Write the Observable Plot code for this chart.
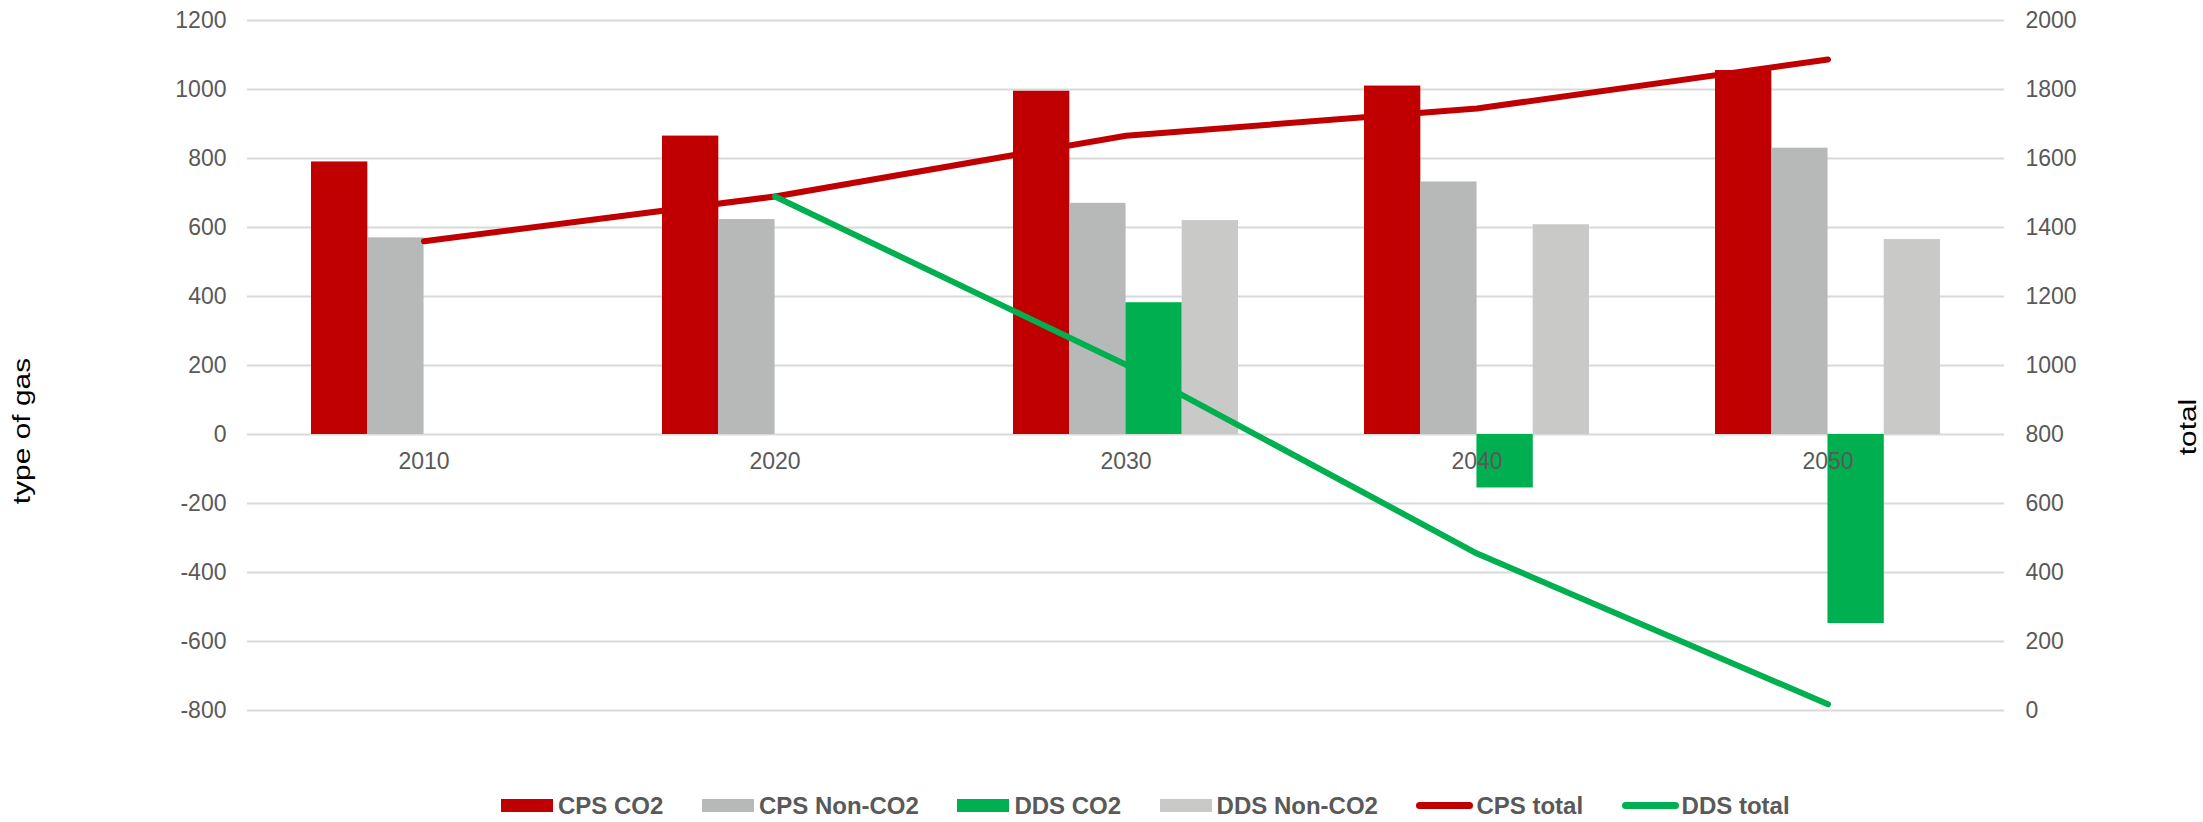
<!DOCTYPE html>
<html>
<head>
<meta charset="utf-8">
<script src="https://cdn.jsdelivr.net/npm/d3@7"></script>
<script src="https://cdn.jsdelivr.net/npm/@observablehq/plot@0.6"></script>
<style>
  html, body { margin: 0; padding: 0; background: #fff; }
  #wrap { position: relative; width: 2203px; height: 822px; overflow: hidden; font-family: "Liberation Sans", Arial, sans-serif; }
  .ytitle { position: absolute; font-size: 23px; color: #000; white-space: nowrap; transform: translate(-50%, -50%) rotate(-90deg) scaleX(1.3); }
  #legend { position: absolute; top: 792px; left: 501px; height: 27px; display: flex; align-items: center; gap: 38.5px; }
  .item { display: flex; align-items: center; font-weight: bold; font-size: 24px; color: #595959; white-space: nowrap; }
  .sw { width: 52px; height: 13px; margin-right: 5px; }
  .ln { width: 57px; height: 7px; border-radius: 4px; margin-right: 3px; }
</style>
</head>
<body>
<div id="wrap">
  <div id="chart"></div>
  <div class="ytitle" style="left:22px; top:431px;">type of gas</div>
  <div class="ytitle" style="left:2188px; top:427px;">total</div>
  <div id="legend"></div>
</div>
<script>
// ---- data ----
const years = [2010, 2020, 2030, 2040, 2050];
const cpsCO2 = [790, 865, 995, 1010, 1055];
const cpsNonCO2 = [570, 623, 670, 732, 830];
const ddsCO2 = [null, null, 382, -155, -548];
const ddsNonCO2 = [null, null, 620, 608, 565];
const cpsTotal = [1360, 1490, 1666, 1745, 1887];
const ddsTotal = [null, 1490, 1002, 455, 18];
const leftTicks = [-800, -600, -400, -200, 0, 200, 400, 600, 800, 1000, 1200];
const rightTicks = [0, 200, 400, 600, 800, 1000, 1200, 1400, 1600, 1800, 2000];

const barSeries = [
  {name: "CPS CO2", values: cpsCO2, color: "#c00000"},
  {name: "CPS Non-CO2", values: cpsNonCO2, color: "#b6b9b7"},
  {name: "DDS CO2", values: ddsCO2, color: "#00b050"},
  {name: "DDS Non-CO2", values: ddsNonCO2, color: "#c9cac8"}
];
const lineSeries = [
  {name: "CPS total", values: cpsTotal, color: "#c00000"},
  {name: "DDS total", values: ddsTotal, color: "#00b050"}
];

// ---- layout ----
const W = 2203, H = 770;
const mL = 247, mR = 199, mT = 20, mB = 60;
const pIn = 0.36, pOut = 0.18;
const step = (W - mL - mR) / (years.length - pIn + 2 * pOut);
const sub = step * (1 - pIn) / barSeries.length;

// right axis (total) mapped onto left axis (type of gas)
const toLeft = d3.scaleLinear([0, 2000], [-800, 1200]);

const marks = [
  Plot.gridY(leftTicks, {stroke: "#d9d9d9", strokeOpacity: 1, strokeWidth: 2})
];
barSeries.forEach((s, i) => {
  const rows = years.map((y, j) => ({year: y, value: s.values[j]})).filter(d => d.value != null);
  marks.push(Plot.barY(rows, {
    x: "year", y1: () => 0, y2: "value", fill: s.color,
    insetLeft: i * sub, insetRight: (barSeries.length - 1 - i) * sub
  }));
});
marks.push(Plot.text(years, {x: d => d, y: () => 0, dy: 27, text: d => String(d), fill: "#595959", fontSize: 23, lineAnchor: "middle"}));
lineSeries.forEach(s => {
  const rows = years.map((y, j) => ({year: y, value: s.values[j]})).filter(d => d.value != null);
  marks.push(Plot.line(rows, {
    x: "year", y: d => toLeft(d.value), stroke: s.color, strokeWidth: 6,
    strokeLinecap: "round", strokeLinejoin: "round"
  }));
});
marks.push(Plot.axisY(leftTicks, {anchor: "left", tickSize: 0, tickPadding: 21, label: null, tickFormat: d => String(d)}));
marks.push(Plot.axisY(rightTicks.map(d => toLeft(d)), {anchor: "right", tickSize: 0, tickPadding: 21, label: null, tickFormat: d => String(Math.round(toLeft.invert(d)))}));

const chart = Plot.plot({
  width: W, height: H,
  marginLeft: mL, marginRight: mR, marginTop: mT, marginBottom: mB,
  style: {fontFamily: '"Liberation Sans", Arial, sans-serif', fontSize: "23px", color: "#595959", background: "#fff"},
  x: {type: "band", domain: years, paddingInner: pIn, paddingOuter: pOut, axis: null},
  y: {domain: [-800, 1200], axis: null},
  marks
});
document.getElementById("chart").appendChild(chart);

// ---- legend ----
const legend = document.getElementById("legend");
barSeries.forEach(s => {
  const it = document.createElement("div"); it.className = "item";
  const sw = document.createElement("span"); sw.className = "sw"; sw.style.background = s.color;
  it.appendChild(sw); it.appendChild(document.createTextNode(s.name));
  legend.appendChild(it);
});
lineSeries.forEach(s => {
  const it = document.createElement("div"); it.className = "item";
  const sw = document.createElement("span"); sw.className = "ln"; sw.style.background = s.color;
  it.appendChild(sw); it.appendChild(document.createTextNode(s.name));
  legend.appendChild(it);
});
</script>
</body>
</html>
